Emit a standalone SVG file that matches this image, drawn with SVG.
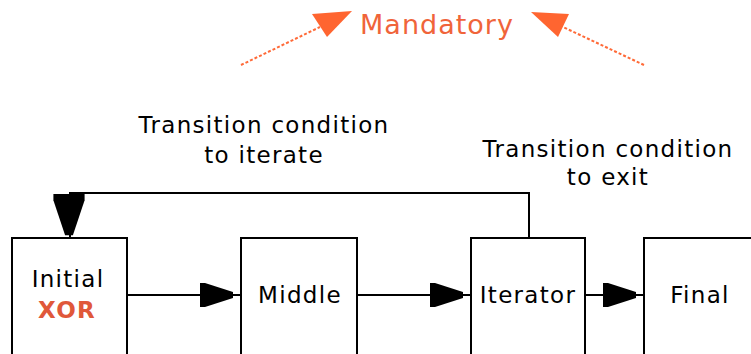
<svg xmlns="http://www.w3.org/2000/svg" width="751" height="354" viewBox="0 0 751 354">
<defs>
<style>
.box{fill:#fff;stroke:#000;stroke-width:2}
.t{font-family:"DejaVu Sans",sans-serif;font-size:23px;letter-spacing:1.3px;fill:#000;text-anchor:middle}
.o{fill:#f0643a}
.line{stroke:#000;stroke-width:2;fill:none}
.dash{stroke:#ff6a38;stroke-width:2;fill:none;stroke-dasharray:3 2}
.mk{fill:#ff6530}
</style>
<path id="ah" d="M0 -12L5 -12L33 -3L33 3L5 12L0 12Z"/>
</defs>
<rect width="751" height="354" fill="#fff"/>
<g id="connectors">
<path class="line" d="M127 295H241"/>
<use href="#ah" x="200" y="295"/>
<path class="line" d="M357 295H471"/>
<use href="#ah" x="430" y="295"/>
<path class="line" d="M585 295H644"/>
<use href="#ah" x="603" y="295"/>
<path class="line" d="M529 238V193H70V238"/>
<use href="#ah" transform="translate(69 194) rotate(90) scale(1.25 1.3)"/>
<path class="dash" d="M241 65L320 27"/>
<path class="mk" d="M352 11L312 14L327 37Z"/>
<path class="dash" d="M644 65L563 27"/>
<path class="mk" d="M531 12L569 14L558 37Z"/>
</g>
<g id="initial"><rect class="box" x="12" y="238" width="115" height="130"/>
<text class="t" x="68" y="287">Initial</text>
<text class="t o" x="67" y="318" style="font-weight:bold;fill:#e0583a">XOR</text></g>
<g id="middle"><rect class="box" x="241" y="238" width="116" height="130"/>
<text class="t" x="300" y="303">Middle</text></g>
<g id="iterator"><rect class="box" x="471" y="238" width="114" height="130"/>
<text class="t" x="528" y="303">Iterator</text></g>
<g id="final"><rect class="box" x="644" y="238" width="130" height="130"/>
<text class="t" x="700" y="303">Final</text></g>
<g id="labels">
<text class="t" x="264" y="133">Transition condition</text>
<text class="t" x="264" y="163">to iterate</text>
<text class="t" x="608" y="157">Transition condition</text>
<text class="t" x="608" y="185">to exit</text>
<text class="t" x="437" y="34" style="font-size:27px;letter-spacing:1px;fill:#f0643a">Mandatory</text>
</g>
</svg>
